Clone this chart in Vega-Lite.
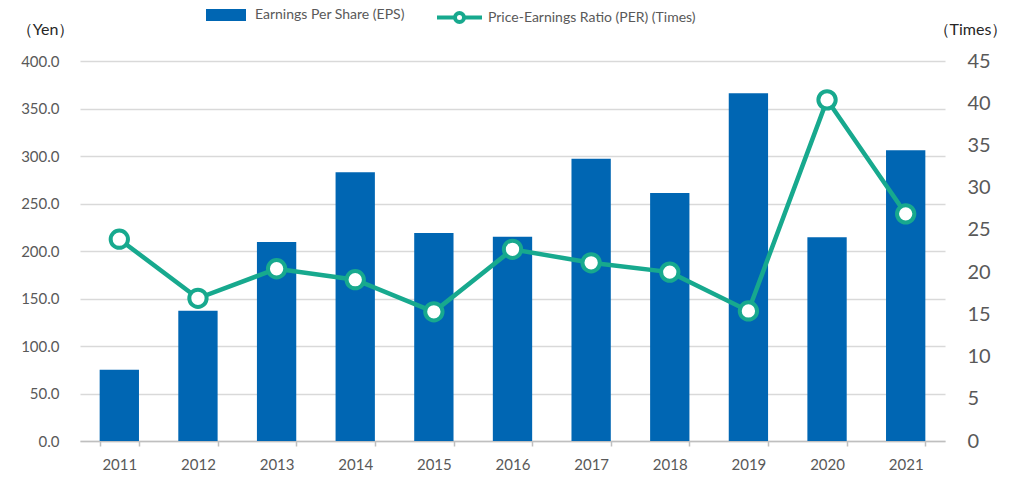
{
  "$schema": "https://vega.github.io/schema/vega-lite/v6.json",
  "width": 865,
  "height": 380,
  "autosize": {"type": "none"},
  "padding": {"left": 80, "top": 61, "right": 75, "bottom": 37},
  "background": "white",
  "config": {
    "font": "Lato",
    "view": {"stroke": null},
    "axis": {"labelFont": "Lato", "labelFontSize": 15, "labelColor": "#595959", "titleFont": "Lato"},
    "legend": {"labelFont": "Lato", "labelFontSize": 14, "labelColor": "#595959", "labelLimit": 0}
  },
  "data": {
    "values": [
      {"year": "2011", "eps": 75, "per": 23.9},
      {"year": "2012", "eps": 137, "per": 16.9},
      {"year": "2013", "eps": 209.5, "per": 20.4},
      {"year": "2014", "eps": 283, "per": 19.1},
      {"year": "2015", "eps": 219, "per": 15.3},
      {"year": "2016", "eps": 215, "per": 22.7},
      {"year": "2017", "eps": 297, "per": 21.1},
      {"year": "2018", "eps": 261, "per": 20.0},
      {"year": "2019", "eps": 366, "per": 15.4},
      {"year": "2020", "eps": 214.5, "per": 40.4},
      {"year": "2021", "eps": 306, "per": 26.9}
    ]
  },
  "encoding": {
    "x": {
      "field": "year", "type": "ordinal",
      "scale": {"paddingInner": 0.5, "paddingOuter": 0.25},
      "axis": {
        "title": null, "labelAngle": 0, "domainColor": "#bfbfbf", "domainWidth": 1.5,
        "tickColor": "#bfbfbf", "tickWidth": 1.5, "tickSize": 5, "tickBand": "extent",
        "labelPadding": 11, "grid": false
      }
    }
  },
  "layer": [
    {
      "mark": {"type": "bar", "color": "#0066b3"},
      "encoding": {
        "y": {
          "field": "eps", "type": "quantitative",
          "scale": {"domain": [0, 400]},
          "axis": {
            "title": "（Yen）", "titleAngle": 0, "titleX": -35, "titleY": -32, "titleAlign": "center",
            "titleBaseline": "middle", "titleFontSize": 16, "titleFontWeight": "normal", "titleColor": "#262626",
            "values": [0, 50, 100, 150, 200, 250, 300, 350, 400],
            "format": ".1f", "domain": false, "ticks": false, "tickSize": 0, "labelPadding": 21,
            "grid": true, "gridColor": "#d9d9d9", "gridWidth": 1.5
          }
        },
        "color": {
          "datum": "Earnings Per Share (EPS)",
          "scale": {"range": ["#0066b3"]},
          "legend": {
            "title": null, "orient": "none", "legendX": 126, "legendY": -66,
            "symbolType": "M-1,-0.3H1V0.3H-1Z", "symbolSize": 1600, "symbolStrokeWidth": 0,
            "symbolOpacity": 1, "labelOffset": 9
          }
        }
      }
    },
    {
      "mark": {"type": "line", "color": "#17a98e", "strokeWidth": 4.5},
      "encoding": {
        "y": {
          "field": "per", "type": "quantitative",
          "scale": {"domain": [0, 45]},
          "axis": {
            "orient": "right",
            "title": "（Times）", "titleAngle": 0, "titleX": 25, "titleY": -32, "titleAlign": "center",
            "titleBaseline": "middle", "titleFontSize": 16, "titleFontWeight": "normal", "titleColor": "#262626",
            "values": [0, 5, 10, 15, 20, 25, 30, 35, 40, 45],
            "labelFontSize": 20, "domain": false, "ticks": false, "tickSize": 0, "labelPadding": 22, "grid": false
          }
        },
        "stroke": {
          "datum": "Price-Earnings Ratio (PER) (Times)",
          "scale": {"range": ["#17a98e"]},
          "legend": {
            "title": null, "orient": "none", "legendX": 355, "legendY": -68,
            "symbolType": "M-1,0H-0.2M0.2,0H1M-0.2,0A0.2,0.2 0 1,1 0.2,0A0.2,0.2 0 1,1 -0.2,0Z",
            "symbolSize": 2025, "symbolStrokeWidth": 4, "symbolFillColor": "white",
            "symbolStrokeColor": "#17a98e", "labelOffset": 4
          }
        }
      }
    },
    {
      "mark": {"type": "point", "filled": true, "fill": "white", "stroke": "#17a98e", "strokeWidth": 4, "size": 300, "opacity": 1},
      "encoding": {
        "y": {"field": "per", "type": "quantitative", "scale": {"domain": [0, 45]}, "axis": null}
      }
    }
  ],
  "resolve": {"scale": {"y": "independent", "color": "independent"}}
}
